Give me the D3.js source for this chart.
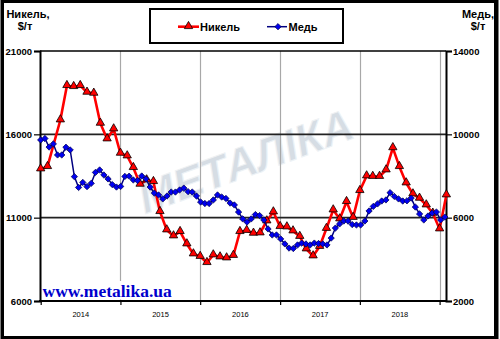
<!DOCTYPE html>
<html><head><meta charset="utf-8">
<script src="https://cdn.jsdelivr.net/npm/d3@7"></script>
<style>body{margin:0;background:#fff}svg{display:block}</style>
</head><body><svg id="c" width="500" height="339"></svg>
<script>
// ---- data ----
const years = ["2014", "2015", "2016", "2017", "2018"];
const leftTicks = [6000, 11000, 16000, 21000];
const rightTicks = [2000, 6000, 10000, 14000];
const seriesNames = ["Никель", "Медь"];

const nickelDates = ["2014-01","2014-02","2014-04","2014-05","2014-06","2014-07","2014-08","2014-09","2014-10","2014-11","2014-12",
 "2015-01","2015-02","2015-03","2015-04","2015-05","2015-06","2015-07","2015-08","2015-09","2015-10","2015-11","2015-12",
 "2016-01","2016-02","2016-03","2016-04","2016-05","2016-06","2016-07","2016-08","2016-09","2016-10","2016-11","2016-12",
 "2017-01","2017-02","2017-03","2017-04","2017-05","2017-06","2017-07","2017-08","2017-09","2017-10","2017-11","2017-12",
 "2018-01","2018-02","2018-03","2018-04","2018-05","2018-06","2018-07","2018-08","2018-09","2018-10","2018-11","2018-12",
 "2019-01","2019-02"];
const nickelValues = [13920,14060,16860,18920,18860,18920,18520,18460,16660,15720,16320,
 14860,14700,14000,13000,13260,13160,11360,10260,9900,10160,9420,8820,
 8670,8300,8760,8640,8580,8730,10160,10230,10060,10080,10800,11340,
 10460,10440,10200,9870,9120,8700,9270,10350,11460,10920,11960,11010,
 12620,13500,13470,13470,13860,15190,14060,13080,12420,12160,11760,11260,
 10320,12360];

const copperPeriod = ["2014-01-01", "2019-01-25"];
const copperValues = [9730,9800,9390,9540,9010,9010,9380,9250,7970,7450,7690,7490,7650,8170,8290,8050,7860,7590,7470,7500,
 7980,7990,7810,7780,8000,7860,7470,7180,7090,6900,7040,7230,7230,7330,7420,7250,7230,7040,6750,6680,
 6680,6850,7090,6990,6920,6700,6610,6270,5940,5790,5940,6150,6100,5890,5460,5170,5170,4980,4740,4540,
 4520,4690,4780,4740,4690,4780,4760,4740,4690,5020,5500,5700,5840,5840,5670,5650,5650,5840,6320,6540,
 6660,6800,6850,7200,7020,6900,6800,6810,6940,6510,6180,5890,6080,6220,6270,5890,6030];

// ---- layout ----
const svg = d3.select("#c");
const L = 40, R = 446, T = 51, B = 301;
const font = "'Liberation Sans', Arial, sans-serif";
const pd = d3.timeParse("%Y-%m");
const pdd = d3.timeParse("%Y-%m-%d");

const x = d3.scaleTime().domain([new Date(2014,0,1), new Date(2019,0,1)]).range([40.7, 439.6]);
const yL = d3.scaleLinear().domain([6000, 21000]).range([B, T]);
const yR = d3.scaleLinear().domain([2000, 14000]).range([B, T]);
const xCu = d3.scaleLinear().domain([0, copperValues.length - 1])
  .range([x(pdd(copperPeriod[0])), x(pdd(copperPeriod[1]))]);

// outer frame
svg.append("rect").attr("x",0.5).attr("y",0).attr("width",498).attr("height",339).attr("fill","#000");
svg.append("rect").attr("x",4).attr("y",3).attr("width",490).attr("height",333).attr("fill","#fff");

// watermark
svg.append("text").attr("transform","translate(145,214) rotate(-20)")
  .attr("font-family", font).attr("font-weight","bold").attr("font-style","italic")
  .attr("font-size",44).attr("fill","#d6dde4").attr("stroke","#eef2f5").attr("stroke-width",1)
  .text("МЕТАЛІКА");

// vertical grid lines
const yearBounds = [1,2,3,4,5].map(i => new Date(2014 + i, 0, 1));
svg.append("g").selectAll("line").data(yearBounds).join("line")
  .attr("x1", d => Math.round(x(d)) + 0.5).attr("x2", d => Math.round(x(d)) + 0.5)
  .attr("y1", T).attr("y2", B).attr("stroke", "#a8a8a8").attr("stroke-width", 1.2);

// horizontal grid lines
svg.append("g").selectAll("line").data([11000, 16000]).join("line")
  .attr("x1", L).attr("x2", R).attr("y1", d => yL(d)).attr("y2", d => yL(d))
  .attr("stroke", "#222").attr("stroke-width", 1.6);

// axes
const gl = svg.append("g").attr("transform", `translate(${L},0)`)
  .call(d3.axisLeft(yL).tickValues(leftTicks).tickSize(6).tickPadding(2).tickFormat(d3.format("d")));
const gr = svg.append("g").attr("transform", `translate(${R},0)`)
  .call(d3.axisRight(yR).tickValues(rightTicks).tickSize(6).tickPadding(1).tickFormat(d3.format("d")));
[gl, gr].forEach(g => {
  g.select(".domain").attr("stroke", "#000").attr("stroke-width", 2);
  g.selectAll(".tick line").attr("stroke", "#000").attr("stroke-width", 1.2);
  g.selectAll(".tick text").attr("font-family", font).attr("font-weight", "bold")
    .attr("font-size", 9.5).attr("fill", "#000");
});
const gb = svg.append("g").attr("transform", `translate(0,${B})`)
  .call(d3.axisBottom(x).tickValues([new Date(2014,0,1), ...yearBounds]).tickSize(4).tickFormat(""));
gb.select(".domain").remove();
gb.selectAll(".tick line").attr("stroke", "#000").attr("stroke-width", 1.2);
svg.append("line").attr("x1", L - 1).attr("x2", R + 1).attr("y1", B).attr("y2", B)
  .attr("stroke", "#000").attr("stroke-width", 2);
svg.append("line").attr("x1", L).attr("x2", R).attr("y1", T).attr("y2", T)
  .attr("stroke", "#000").attr("stroke-width", 1.6);

const gx = svg.append("g").attr("transform", `translate(0,${B})`)
  .call(d3.axisBottom(x).tickValues(years.map(yv => new Date(+yv, 6, 1))).tickSize(0).tickPadding(11)
    .tickFormat(d3.timeFormat("%Y")));
gx.select(".domain").remove();
gx.selectAll(".tick text").attr("font-family", font).attr("font-size", 7.5).attr("fill", "#000");

// nickel
const nickel = nickelDates.map((d, i) => ({ x: x(pd(d)), y: yL(nickelValues[i]) }));
svg.append("path").datum(nickel)
  .attr("d", d3.line().x(d => d.x).y(d => d.y))
  .attr("fill", "none").attr("stroke", "#ff0000").attr("stroke-width", 2.6).attr("stroke-linejoin", "round");
const tri = d3.symbol().type(d3.symbolTriangle).size(30);
svg.append("g").selectAll("path").data(nickel).join("path")
  .attr("transform", d => `translate(${d.x},${d.y - 0.5})`).attr("d", tri)
  .attr("fill", "#ff0000").attr("stroke", "#000").attr("stroke-width", 0.8);

// copper
const copper = copperValues.map((v, i) => ({ x: xCu(i), y: yR(v) }));
svg.append("path").datum(copper)
  .attr("d", d3.line().x(d => d.x).y(d => d.y))
  .attr("fill", "none").attr("stroke", "#000080").attr("stroke-width", 1.5);
const dia = d3.symbol().type(d3.symbolSquare).size(20);
svg.append("g").selectAll("path").data(copper).join("path")
  .attr("transform", d => `translate(${d.x},${d.y}) rotate(45)`).attr("d", dia)
  .attr("fill", "#0000f0").attr("stroke", "#000050").attr("stroke-width", 0.7);

// website text box
svg.append("rect").attr("x", 42).attr("y", 281).attr("width", 134).attr("height", 18.5).attr("fill", "#fff");
svg.append("text").attr("x", 42.5).attr("y", 296.5)
  .attr("font-family", "'Liberation Serif', 'Times New Roman', serif").attr("font-weight", "bold")
  .attr("font-size", 17.5).attr("fill", "#0000cc").text("www.metalika.ua");

// axis titles
const titles = [
  { t: "Никель,", x: 28, y: 17.5 }, { t: "$/т", x: 25, y: 30 },
  { t: "Медь,", x: 478, y: 17.5 }, { t: "$/т", x: 478, y: 30 }
];
svg.append("g").selectAll("text").data(titles).join("text")
  .attr("x", d => d.x).attr("y", d => d.y).attr("text-anchor", "middle")
  .attr("font-family", font).attr("font-weight", "bold").attr("font-size", 11).attr("fill", "#000")
  .text(d => d.t);

// legend
svg.append("rect").attr("x", 150).attr("y", 9).attr("width", 193).attr("height", 34)
  .attr("fill", "#fff").attr("stroke", "#000").attr("stroke-width", 2);
const legY = 26.7;
svg.append("line").attr("x1", 178).attr("x2", 199).attr("y1", legY).attr("y2", legY)
  .attr("stroke", "#ff0000").attr("stroke-width", 2.6);
svg.append("path").attr("transform", `translate(188.5,${legY - 0.5})`).attr("d", tri)
  .attr("fill", "#ff0000").attr("stroke", "#000").attr("stroke-width", 0.8);
svg.append("line").attr("x1", 267).attr("x2", 287).attr("y1", legY).attr("y2", legY)
  .attr("stroke", "#000080").attr("stroke-width", 1.5);
svg.append("path").attr("transform", `translate(278,${legY}) rotate(45)`).attr("d", dia)
  .attr("fill", "#0000f0").attr("stroke", "#000050").attr("stroke-width", 0.7);
svg.append("g").selectAll("text").data(seriesNames).join("text")
  .attr("x", (d, i) => i === 0 ? 200 : 288.5).attr("y", legY + 4)
  .attr("font-family", font).attr("font-weight", "bold").attr("font-size", 11).attr("fill", "#000")
  .text(d => d);
</script></body></html>
